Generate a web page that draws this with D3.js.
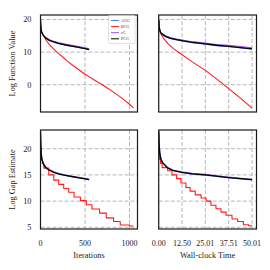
<!DOCTYPE html>
<html>
<head>
<meta charset="utf-8">
<script src="https://cdn.jsdelivr.net/npm/d3@7/dist/d3.min.js"></script>
<style>
  html, body { margin: 0; padding: 0; background: #fff; }
  svg { display: block; }
</style>
</head>
<body>
<script>
// ── Data ────────────────────────────────────────────────────────────────
const METHODS = ['AGG', 'BCG', 'cG', 'PCG'];
const COLORS  = { AGG: '#4a86d0', BCG: '#ff1a1a', cG: '#a24ee6', PCG: '#000000' };

// log function value vs iterations
const fIterAGG = [[0,19.8],[3,17.7],[8,16.6],[15,15.9],[30,15.1],[60,14.25],[100,13.55],[150,13.05],[200,12.65],[300,12.05],[400,11.55],[500,11.05],[545,10.8]];
const fIterBCG = [[0,19.8],[4,17.5],[12,16.2],[30,15.2],[60,13.8],[100,12.3],[150,10.9],[200,9.6],[250,8.5],[300,7.3],[350,6.2],[400,5.2],[450,4.2],[500,3.2],[550,2.4],[600,1.5],[650,0.7],[700,-0.1],[750,-1.0],[800,-1.9],[850,-2.9],[900,-3.8],[950,-4.9],[1000,-6.0],[1045,-7.1]];
const fIterCG  = [[0,19.8],[3,17.9],[8,16.8],[15,16.1],[30,15.3],[60,14.45],[100,13.8],[150,13.3],[200,12.9],[300,12.35],[400,11.85],[500,11.35],[540,11.1]];
const fIterPCG = [[0,19.8],[3,17.8],[8,16.7],[15,16.0],[30,15.2],[60,14.3],[100,13.6],[150,13.1],[200,12.7],[300,12.1],[400,11.6],[500,11.1],[548,10.8]];

// log function value vs wall-clock time
const fTimeAGG = [[0,19.8],[0.2,17.9],[0.6,16.5],[1.0,15.9],[1.7,15.5],[3.5,14.8],[6,14.2],[9,13.8],[12.5,13.4],[18,12.9],[25,12.4],[31,12.0],[37.5,11.7],[44,11.3],[50.01,11.0]];
const fTimeBCG = [[0,19.8],[0.3,17.5],[1,15.8],[2.5,14.3],[5,12.6],[8,11.0],[12.5,9.2],[18,7.0],[25,4.4],[31,1.8],[37.5,-1.2],[44,-4.2],[50.01,-7.2]];
const fTimeCG  = [[0,19.8],[0.2,18.1],[0.6,16.7],[1.0,16.1],[1.7,15.7],[3.5,15.0],[6,14.45],[9,14.05],[12.5,13.7],[18,13.2],[25,12.75],[31,12.35],[37.5,12.05],[44,11.7],[50.01,11.35]];
const fTimePCG = [[0,19.8],[0.2,18.0],[0.6,16.6],[1.0,16.0],[1.7,15.6],[3.5,14.9],[6,14.3],[9,13.9],[12.5,13.5],[18,13.0],[25,12.5],[31,12.1],[37.5,11.75],[44,11.35],[50.01,11.0]];

// log gap estimate vs iterations (BCG is a staircase)
const gIterAGG = [[0,23.3],[3,21.0],[8,19.2],[15,18.0],[34,17.0],[60,16.4],[90,16.0],[150,15.5],[202,15.2],[280,14.9],[350,14.65],[450,14.4],[545,14.1]];
const gIterBCGx = [0, 8, 20, 37, 93, 149, 205, 261, 317, 377, 448, 515, 578, 664, 739, 821, 896, 1000, 1045];
const gIterBCGy = [19.0, 18.0, 17.2, 16.3, 15.0, 14.0, 13.2, 12.4, 11.7, 10.8, 10.1, 9.3, 8.5, 7.7, 6.8, 6.1, 5.45, 5.25, 5.25];
const gIterCG  = [[0,23.3],[3,21.1],[8,19.3],[15,18.1],[34,17.1],[60,16.5],[90,16.1],[150,15.6],[202,15.3],[280,15.0],[350,14.75],[450,14.5],[540,14.25]];
const gIterPCG = [[0,23.3],[3,21.0],[8,19.2],[15,18.0],[34,17.0],[60,16.4],[90,16.0],[150,15.5],[202,15.2],[280,14.9],[350,14.7],[450,14.4],[548,14.1]];

// log gap estimate vs wall-clock time
const gTimeAGG = [[0,23.3],[0.2,21.0],[0.6,19.0],[1.2,18.0],[2.1,17.3],[4.9,16.3],[8,15.8],[12.5,15.45],[18,15.15],[25,14.95],[31,14.7],[37.5,14.45],[44,14.25],[50.01,14.05]];
const gTimeBCGx = [0, 0.4, 1.0, 1.8, 4.8, 7.1, 9.6, 11.9, 14.6, 16.8, 19.6, 22.7, 25.4, 28.0, 30.7, 33.4, 36.1, 39.3, 42.3, 45.4, 48.2, 50.01];
const gTimeBCGy = [19.0, 18.0, 17.2, 16.4, 15.8, 15.0, 14.3, 13.45, 12.6, 11.9, 11.2, 10.6, 10.0, 9.2, 8.55, 7.9, 7.3, 6.6, 6.1, 5.5, 5.3, 5.3];
const gTimeCG  = [[0,23.3],[0.2,21.1],[0.6,19.1],[1.2,18.1],[2.1,17.4],[4.9,16.4],[8,15.9],[12.5,15.6],[18,15.3],[25,15.1],[31,14.85],[37.5,14.6],[44,14.35],[50.01,14.15]];
const gTimePCG = [[0,23.3],[0.2,21.0],[0.6,19.0],[1.2,18.0],[2.1,17.3],[4.9,16.3],[8,15.8],[12.5,15.5],[18,15.2],[25,15.0],[31,14.75],[37.5,14.5],[44,14.3],[50.01,14.1]];

// ticks
const iterTicks   = [0, 500, 1000];
const timeTicks   = [0, 12.5025, 25.005, 37.5075, 50.01];
const timeLabels  = ['0.00', '12.50', '25.01', '37.51', '50.01'];
const fvTicks     = [0, 10, 20];
const gapTicks    = [5, 10, 15, 20];

// ── Layout ──────────────────────────────────────────────────────────────
const W = 270, H = 270;
const FONT = '"Liberation Serif","Times New Roman",serif';
const COLS = [{ x0: 40.5, x1: 137.5 }, { x0: 158.7, x1: 256.5 }];
const ROWS = [{ y0: 15, y1: 112 }, { y0: 130, y1: 229 }];

const svg = d3.select('body').append('svg').attr('width', W).attr('height', H);

const zip = (xs, ys) => xs.map((x, i) => [x, ys[i]]);

function panel(opt) {
  const { col, row } = opt;
  const c = COLS[col], r = ROWS[row];
  const x = d3.scaleLinear().domain(opt.xDomain).range([c.x0, c.x1]);
  const y = d3.scaleLinear().domain(opt.yDomain).range([r.y1, r.y0]);
  const g = svg.append('g');
  const clipId = `clip-${col}-${row}`;
  g.append('clipPath').attr('id', clipId)
    .append('rect').attr('x', c.x0).attr('y', r.y0)
    .attr('width', c.x1 - c.x0).attr('height', r.y1 - r.y0);

  // grid
  const grid = g.append('g').attr('stroke', '#b8b8b8').attr('stroke-width', 1)
    .attr('stroke-dasharray', '4,2').attr('clip-path', `url(#${clipId})`);
  grid.selectAll('.vx').data(opt.xTicks).join('line')
    .attr('x1', d => x(d)).attr('x2', d => x(d)).attr('y1', r.y0).attr('y2', r.y1);
  grid.selectAll('.hy').data(opt.yTicks).join('line')
    .attr('y1', d => y(d)).attr('y2', d => y(d)).attr('x1', c.x0).attr('x2', c.x1);

  // series
  const lines = g.append('g').attr('clip-path', `url(#${clipId})`).attr('fill', 'none');
  for (const s of opt.series) {
    const line = d3.line().x(d => x(d[0])).y(d => y(d[1]));
    if (s.step) line.curve(d3.curveStepAfter);
    lines.append('path').attr('d', line(s.data))
      .attr('stroke', COLORS[s.name]).attr('stroke-width', s.name === 'PCG' ? 1.3 : 1.1)
      .attr('stroke-linejoin', 'round');
  }

  // frame
  g.append('rect').attr('x', c.x0).attr('y', r.y0)
    .attr('width', c.x1 - c.x0).attr('height', r.y1 - r.y0)
    .attr('fill', 'none').attr('stroke', '#1a1a1a').attr('stroke-width', 1.2);

  // y tick labels
  if (opt.yLabel) {
    g.selectAll('.yt').data(opt.yTicks).join('text')
      .attr('x', c.x0 - 9).attr('y', d => y(d)).attr('dy', '0.35em')
      .attr('text-anchor', 'end').attr('font-family', FONT).attr('font-size', 8.3)
      .attr('fill', '#222').text(d => d);
    g.append('text')
      .attr('transform', `translate(15,${(r.y0 + r.y1) / 2}) rotate(-90)`)
      .attr('text-anchor', 'middle').attr('font-family', FONT).attr('font-size', 8.3)
      .attr('fill', '#222').text(opt.yLabel);
  }

  // x tick labels
  if (opt.xLabel) {
    g.selectAll('.xt').data(opt.xTicks).join('text')
      .attr('x', d => x(d)).attr('y', 246)
      .attr('text-anchor', 'middle').attr('font-family', FONT).attr('font-size', 8)
      .attr('fill', '#222').text((d, i) => opt.xTickLabels ? opt.xTickLabels[i] : d);
    g.append('text')
      .attr('x', (c.x0 + c.x1) / 2).attr('y', 258)
      .attr('text-anchor', 'middle').attr('font-family', FONT).attr('font-size', 8.3)
      .attr('fill', '#222').text(opt.xLabel);
  }

  // legend
  if (opt.legend) {
    const lx = c.x1 - 29, ly = r.y0 + 0.5;
    const lg = g.append('g');
    lg.append('rect').attr('x', lx).attr('y', ly).attr('width', 26.5).attr('height', 28)
      .attr('rx', 1).attr('fill', '#fff').attr('fill-opacity', 0.85)
      .attr('stroke', '#d0d0d0').attr('stroke-width', 0.6);
    METHODS.forEach((m, i) => {
      const yy = ly + 5 + i * 6.1;
      lg.append('line').attr('x1', lx + 2.5).attr('x2', lx + 10.5)
        .attr('y1', yy).attr('y2', yy).attr('stroke', COLORS[m]).attr('stroke-width', 1);
      lg.append('text').attr('x', lx + 12.5).attr('y', yy).attr('dy', '0.35em')
        .attr('font-family', FONT).attr('font-size', 4).attr('fill', '#333').text(m);
    });
  }
}

const FV_DOMAIN  = [-8.37, 21.38];
const GAP_DOMAIN = [4.68, 23.57];
const ITER_DOMAIN = [0, 1090];
const TIME_DOMAIN = [0, 52.42];

panel({
  col: 0, row: 0, xDomain: ITER_DOMAIN, yDomain: FV_DOMAIN,
  xTicks: iterTicks, yTicks: fvTicks, yLabel: 'Log Function Value', legend: true,
  series: [
    { name: 'AGG', data: fIterAGG }, { name: 'BCG', data: fIterBCG },
    { name: 'cG', data: fIterCG }, { name: 'PCG', data: fIterPCG },
  ],
});
panel({
  col: 1, row: 0, xDomain: TIME_DOMAIN, yDomain: FV_DOMAIN,
  xTicks: timeTicks, yTicks: fvTicks,
  series: [
    { name: 'AGG', data: fTimeAGG }, { name: 'BCG', data: fTimeBCG },
    { name: 'cG', data: fTimeCG }, { name: 'PCG', data: fTimePCG },
  ],
});
panel({
  col: 0, row: 1, xDomain: ITER_DOMAIN, yDomain: GAP_DOMAIN,
  xTicks: iterTicks, yTicks: gapTicks, yLabel: 'Log Gap Estimate', xLabel: 'Iterations',
  series: [
    { name: 'AGG', data: gIterAGG }, { name: 'BCG', data: zip(gIterBCGx, gIterBCGy), step: true },
    { name: 'cG', data: gIterCG }, { name: 'PCG', data: gIterPCG },
  ],
});
panel({
  col: 1, row: 1, xDomain: TIME_DOMAIN, yDomain: GAP_DOMAIN,
  xTicks: timeTicks, xTickLabels: timeLabels, yTicks: gapTicks, xLabel: 'Wall-clock Time',
  series: [
    { name: 'AGG', data: gTimeAGG }, { name: 'BCG', data: zip(gTimeBCGx, gTimeBCGy), step: true },
    { name: 'cG', data: gTimeCG }, { name: 'PCG', data: gTimePCG },
  ],
});
</script>
</body>
</html>
